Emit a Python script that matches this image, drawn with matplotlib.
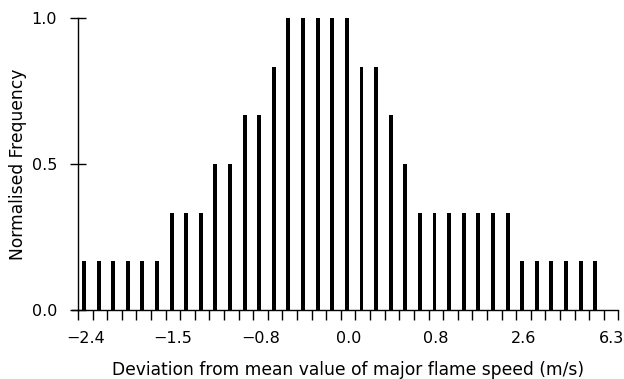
import matplotlib
matplotlib.use("Agg")
import matplotlib.pyplot as plt
import numpy as np

# Normalised frequency per bin (36 bins)
frequency = [1/6]*6 + [2/6]*3 + [3/6]*2 + [4/6]*2 + [5/6] + [1.0]*5 + \
            [5/6]*2 + [4/6] + [3/6] + [2/6]*7 + [1/6]*6
tick_labels = ["\u22122.4", "\u22121.5", "\u22120.8", "0.0", "0.8", "2.6", "6.3"]
tick_bins = [0, 6, 12, 18, 24, 30, 36]
y_ticks = [0.0, 0.5, 1.0]
y_tick_labels = ["0.0", "0.5", "1.0"]
n_edges = 37

plt.rcParams['font.family'] = ['DejaVu Sans']

fig = plt.figure(figsize=(6.24, 3.79), dpi=100)
ax = fig.add_axes([0.125, 0.182, 0.866, 0.7705])

x = np.arange(len(frequency)) + 0.41
ax.bar(x, frequency, width=0.27, color="black", linewidth=0)

ax.set_xlim(0, n_edges)
ax.set_ylim(0, 1.0)

ax.set_xticks(np.arange(n_edges + 1), minor=True)
ax.set_xticks(np.array(tick_bins) + 0.5)
ax.set_xticklabels(tick_labels, fontsize=11.5)
ax.tick_params(axis="x", which="major", length=0, pad=15)
ax.tick_params(axis="x", which="minor", length=7, width=1, direction="out")

ax.set_yticks(y_ticks)
ax.set_yticklabels(y_tick_labels, fontsize=11.5)
ax.tick_params(axis="y", which="major", length=12, width=1, direction="inout", pad=9)

for s in ["top", "right"]:
    ax.spines[s].set_visible(False)
ax.spines["left"].set_linewidth(1)
ax.spines["bottom"].set_linewidth(1)
ax.spines["bottom"].set_bounds(-0.4, n_edges)

ax.set_xlabel("Deviation from mean value of major flame speed (m/s)", fontsize=12.3, labelpad=11)
ax.set_ylabel("Normalised Frequency", fontsize=12.3, labelpad=3)

fig.savefig("out.png", dpi=100)
